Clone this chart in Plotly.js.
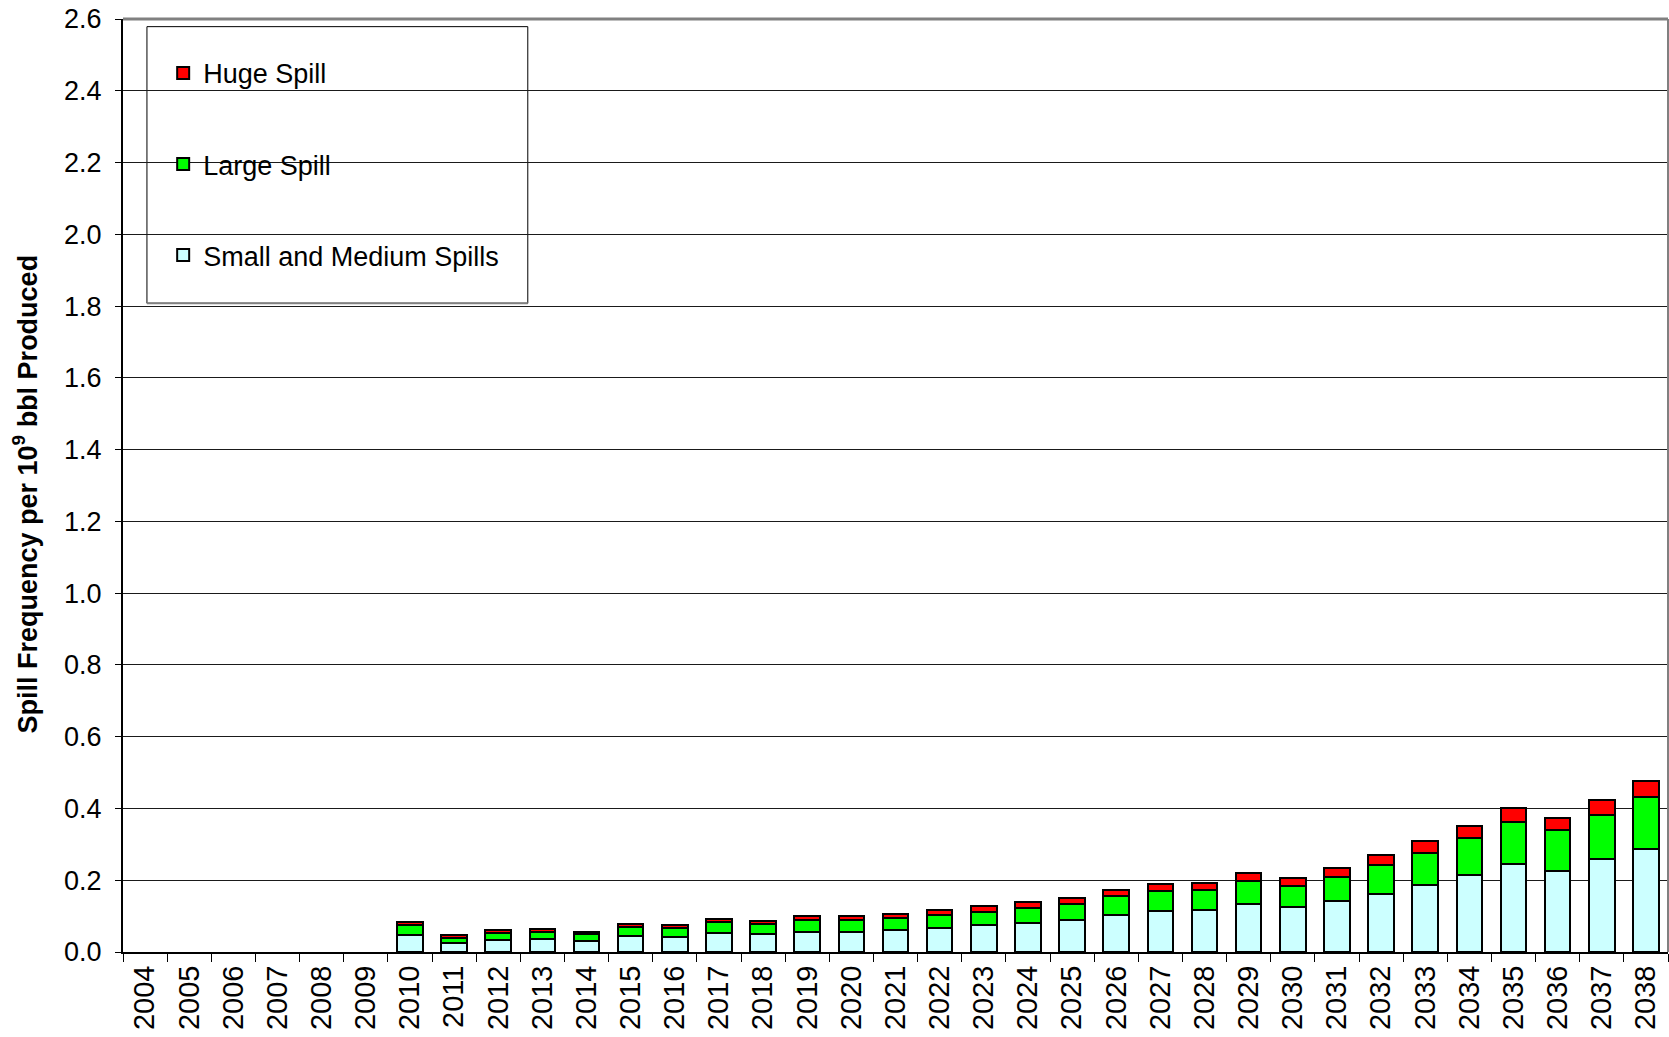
<!DOCTYPE html>
<html>
<head>
<meta charset="utf-8">
<script src="https://cdn.plot.ly/plotly-3.0.1.min.js"></script>
<style>
  html, body { margin: 0; padding: 0; background: #ffffff; }
  #chart { width: 1669px; height: 1037px; }
</style>
</head>
<body>
<div id="chart"></div>
<script>
const years = ['2004','2005','2006','2007','2008','2009','2010','2011','2012','2013','2014','2015','2016','2017','2018','2019','2020','2021','2022','2023','2024','2025','2026','2027','2028','2029','2030','2031','2032','2033','2034','2035','2036','2037','2038'];

const smallMedium = [null,null,null,null,null,null,0.046,0.025,0.034,0.036,0.031,0.044,0.042,0.054,0.049,0.057,0.056,0.061,0.068,0.074,0.082,0.088,0.103,0.114,0.116,0.133,0.126,0.141,0.163,0.188,0.214,0.245,0.225,0.258,0.288];
const largeSpill = [null,null,null,null,null,null,0.030,0.015,0.018,0.021,0.019,0.026,0.025,0.030,0.030,0.032,0.033,0.033,0.035,0.038,0.041,0.046,0.054,0.057,0.058,0.065,0.059,0.069,0.079,0.089,0.104,0.118,0.114,0.125,0.143];
const hugeSpill = [null,null,null,null,null,null,0.007,0.006,0.008,0.008,0.007,0.009,0.008,0.009,0.008,0.010,0.010,0.011,0.013,0.015,0.015,0.017,0.017,0.019,0.019,0.023,0.022,0.024,0.028,0.031,0.032,0.038,0.035,0.041,0.045];

const seriesNames = ['Small and Medium Spills', 'Large Spill', 'Huge Spill'];
const seriesColors = ['#CCFFFF', '#00FF00', '#FF0000'];
const seriesValues = [smallMedium, largeSpill, hugeSpill];
const seriesLegendRank = [3, 2, 1];

const yTitle = 'Spill Frequency per 10<sup>9</sup> bbl Produced';

const FONT = 'Arial, "Liberation Sans", sans-serif';

const traces = seriesValues.map((vals, i) => ({
  type: 'bar',
  name: seriesNames[i],
  x: years,
  y: vals,
  legendgroup: 'g' + i,
  legendrank: seriesLegendRank[i],
  marker: { color: seriesColors[i], line: { color: '#000000', width: 2 } },
  hoverinfo: 'x+y+name'
}));

const layout = {
  width: 1669,
  height: 1037,
  paper_bgcolor: '#ffffff',
  plot_bgcolor: '#ffffff',
  margin: { l: 123, r: 1, t: 19, b: 85, pad: 0 },
  barmode: 'stack',
  bargap: 0.42,
  showlegend: true,
  font: { family: FONT, color: '#000000', size: 27 },
  legend: {
    x: 0.026, xanchor: 'left',
    y: 0.968, yanchor: 'top',
    traceorder: 'grouped',
    tracegroupgap: 53,
    bgcolor: 'rgba(0,0,0,0)',
    borderwidth: 0,
    font: { family: FONT, size: 27, color: '#000000' }
  },
  xaxis: {
    type: 'category',
    range: [-0.5, 34.5],
    tickson: 'boundaries',
    ticks: 'outside',
    ticklen: 8,
    tickwidth: 1,
    tickcolor: '#000000',
    tickangle: -90,
    tickfont: { family: FONT, size: 29, color: '#000000' },
    showline: true,
    linecolor: '#000000',
    linewidth: 2,
    showgrid: false,
    zeroline: false,
    automargin: false
  },
  yaxis: {
    range: [0, 2.6],
    dtick: 0.2,
    tick0: 0,
    tickformat: '.1f',
    ticks: 'outside',
    ticklen: 6,
    tickwidth: 1,
    tickcolor: '#000000',
    ticklabelstandoff: 8,
    tickfont: { family: FONT, size: 27, color: '#000000' },
    showline: true,
    linecolor: '#000000',
    linewidth: 2,
    showgrid: true,
    gridcolor: '#1a1a1a',
    gridwidth: 1,
    zeroline: false,
    automargin: false
  },
  annotations: [
    {
      text: yTitle,
      xref: 'paper', yref: 'paper',
      x: 0, y: 0.5,
      xanchor: 'center', yanchor: 'middle',
      xshift: -97.5, yshift: -8.5,
      textangle: -90,
      showarrow: false,
      font: { family: FONT, size: 27, color: '#000000', weight: 'bold' }
    }
  ],
  shapes: [
    { type: 'line', xref: 'paper', yref: 'paper', x0: 0, x1: 1, y0: 1, y1: 1,
      line: { color: '#808080', width: 3 } },
    { type: 'line', xref: 'paper', yref: 'paper', x0: 1, x1: 1, y0: 0, y1: 1,
      line: { color: '#808080', width: 2 } },
    { type: 'rect', xref: 'paper', yref: 'paper', x0: 0.0155, x1: 0.262, y0: 0.6953, y1: 0.9918,
      fillcolor: '#ffffff', layer: 'below',
      line: { color: '#000000', width: 1 } },
    { type: 'line', xref: 'paper', yref: 'paper', x0: 0.0155, x1: 0.262, y0: 0.6953, y1: 0.6953,
      line: { color: '#808080', width: 2 } }
  ]
};

Plotly.newPlot('chart', traces, layout, { displayModeBar: false, staticPlot: true });
</script>
</body>
</html>
